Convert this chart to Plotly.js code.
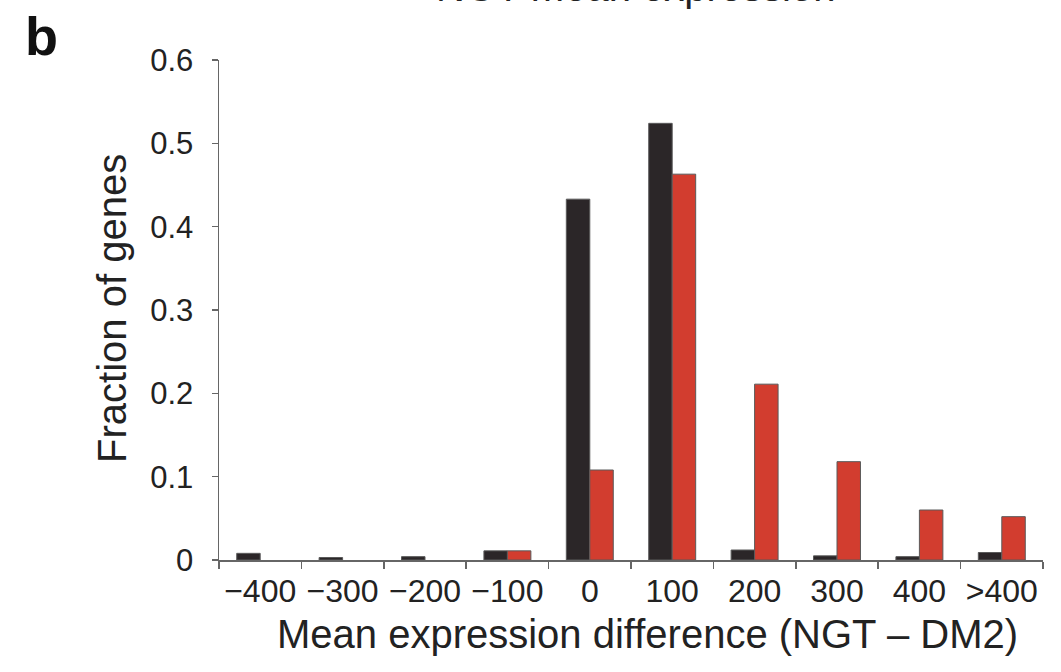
<!DOCTYPE html>
<html>
<head>
<meta charset="utf-8">
<script src="https://cdn.plot.ly/plotly-3.0.1.min.js"></script>
<style>html,body{margin:0;padding:0;background:#fff;}#chart{width:1061px;height:672px;}</style>
</head>
<body>
<div id="chart"></div>
<script>
const categories = ["\u2212400", "\u2212300", "\u2212200", "\u2212100", "0", "100", "200", "300", "400", ">400"];
const blackSeries = [0.008, 0.003, 0.004, 0.011, 0.433, 0.524, 0.012, 0.005, 0.004, 0.009];
const redSeries   = [null, null, null, 0.011, 0.108, 0.463, 0.211, 0.118, 0.060, 0.052];
const yTicks = [0, 0.1, 0.2, 0.3, 0.4, 0.5, 0.6];
const yTickLabels = ["0", "0.1", "0.2", "0.3", "0.4", "0.5", "0.6"];

const font = "Liberation Sans, Arial, sans-serif";
const traces = [
  {type: "bar", x: categories, y: blackSeries, name: "black",
   marker: {color: "#2b2628", line: {color: "#5a5a5a", width: 1}}},
  {type: "bar", x: categories, y: redSeries, name: "red",
   marker: {color: "#d23d2f", line: {color: "#5a5a5a", width: 1}}}
];
const layout = {
  width: 1061, height: 672,
  margin: {l: 219, r: 18, t: 60, b: 112},
  paper_bgcolor: "#fff", plot_bgcolor: "#fff",
  showlegend: false,
  barmode: "group", bargap: 0.43, bargroupgap: 0,
  font: {family: font, color: "#222"},
  xaxis: {
    type: "category", tickson: "boundaries",
    showline: true, linecolor: "#666", linewidth: 1.5,
    ticks: "outside", ticklen: 7, tickcolor: "#666", tickwidth: 1.5,
    tickfont: {size: 32, color: "#222"},
    showgrid: false, zeroline: false,
    ticklabelstandoff: 2
  },
  yaxis: {
    range: [0, 0.6], tickvals: yTicks, ticktext: yTickLabels,
    showline: true, linecolor: "#666", linewidth: 1.5,
    ticks: "outside", ticklen: 6, tickcolor: "#666", tickwidth: 1.5,
    tickfont: {size: 31, color: "#222"},
    showgrid: false, zeroline: false,
    ticklabelstandoff: 12
  },
  annotations: [
    {text: "b", xref: "paper", yref: "paper", x: -0.238, y: 0.985, xanchor: "left", yanchor: "bottom",
     showarrow: false, font: {size: 54, family: font, color: "#111", weight: "bold"}},
    {text: "NGT mean expression", xref: "paper", yref: "paper", x: 0.505, y: 1.098, xanchor: "center", yanchor: "bottom",
     showarrow: false, font: {size: 40, family: font, color: "#222"}},
    {text: "Fraction of genes", xref: "paper", yref: "paper", x: -0.13, y: 0.504, xanchor: "center", yanchor: "middle",
     textangle: -90, showarrow: false, font: {size: 40, family: font, color: "#222"}},
    {text: "Mean expression difference (NGT \u2013 DM2)", xref: "paper", yref: "paper", x: 0.52, y: -0.1, xanchor: "center", yanchor: "top",
     showarrow: false, font: {size: 40, family: font, color: "#222"}}
  ]
};
Plotly.newPlot("chart", traces, layout, {displayModeBar: false, staticPlot: true});
</script>
</body>
</html>
